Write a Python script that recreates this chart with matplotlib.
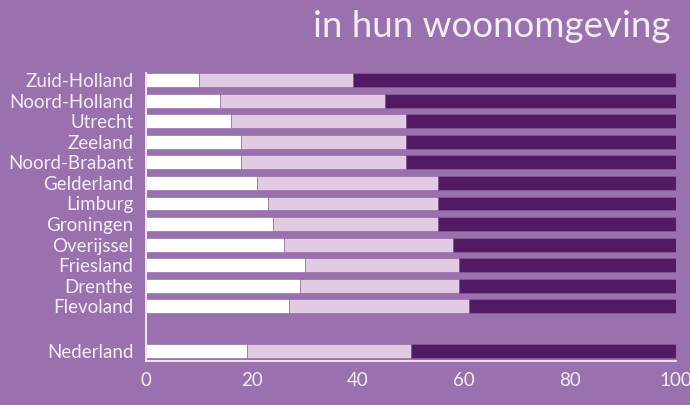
import matplotlib.pyplot as plt
import numpy as np

plt.rcParams['font.family'] = ['Lato', 'DejaVu Sans']

provinces = ['Zuid-Holland', 'Noord-Holland', 'Utrecht', 'Zeeland', 'Noord-Brabant',
             'Gelderland', 'Limburg', 'Groningen', 'Overijssel', 'Friesland',
             'Drenthe', 'Flevoland', 'Nederland']
# cumulative ends of the first (white) and second (light) segment, in %
white_end = [10, 14, 16, 18, 18, 21, 23, 24, 26, 30, 29, 27, 19]
light_end = [39, 45, 49, 49, 49, 55, 55, 55, 58, 59, 59, 61, 50]
xticks = [0, 20, 40, 60, 80, 100]

bg = '#9a70ae'
c_white = '#ffffff'
c_light = '#e2cbe2'
c_dark = '#521a63'
txt = '#f4ecf6'

white = np.array(white_end, dtype=float)
light = np.array(light_end, dtype=float) - white
dark = 100 - np.array(light_end, dtype=float)

ypos = np.arange(len(provinces), dtype=float)
ypos[-1] = 13.17  # Nederland sits apart

fig = plt.figure(figsize=(6.9, 4.05), dpi=100, facecolor=bg)
ax = fig.add_axes([146 / 690, 1 - 361 / 405, 530 / 690, (361 - 73.3) / 405])
ax.set_facecolor(bg)

h = 0.68
ec = '#8a62a0'
ax.barh(ypos, white, height=h, color=c_white, edgecolor=ec, linewidth=0.4)
ax.barh(ypos, light, left=white, height=h, color=c_light, edgecolor=ec, linewidth=0.4)
ax.barh(ypos, dark, left=white + light, height=h, color=c_dark, edgecolor=ec, linewidth=0.4)

ax.set_xlim(0, 100)
ax.set_ylim(13.67, -0.34)
ax.set_yticks(ypos)
ax.set_yticklabels(provinces, fontsize=13.5, color=txt)
ax.set_xticks(xticks)
ax.set_xticklabels([str(t) for t in xticks], fontsize=13.5, color=txt)
ax.tick_params(length=0)
ax.tick_params(axis='y', pad=9)
ax.tick_params(axis='x', pad=8)

for s in ['top', 'right']:
    ax.spines[s].set_visible(False)
for s in ['left', 'bottom']:
    ax.spines[s].set_color('#f6eef8')
    ax.spines[s].set_linewidth(1.3)

fig.text(0.972, 0.935, 'in hun woonomgeving', ha='right', va='center',
         fontsize=26.5, color=txt)

fig.savefig('out.png', facecolor=bg)
